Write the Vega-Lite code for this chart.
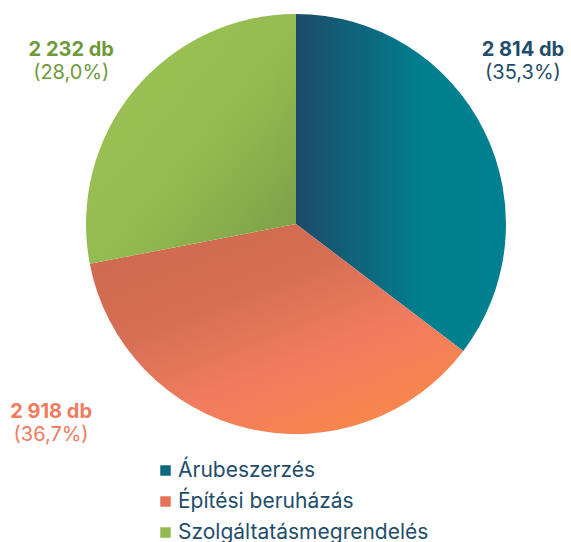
{
  "$schema": "https://vega.github.io/schema/vega-lite/v6.json",
  "autosize": "none",
  "width": 420,
  "height": 420,
  "padding": {"left": 86, "top": 14, "right": 65, "bottom": 108},
  "background": "white",
  "config": {"view": {"stroke": null}, "font": "Inter"},
  "data": {"values": [
    {"cat": "Árubeszerzés", "count": 2814, "label": "2 814 db", "pct": "(35,3%)", "ord": 1},
    {"cat": "Építési beruházás", "count": 2918, "label": "2 918 db", "pct": "(36,7%)", "ord": 2},
    {"cat": "Szolgáltatásmegrendelés", "count": 2232, "label": "2 232 db", "pct": "(28,0%)", "ord": 3}
  ]},
  "encoding": {
    "theta": {"field": "count", "type": "quantitative", "stack": true},
    "order": {"field": "ord", "type": "quantitative", "sort": "ascending"}
  },
  "layer": [
    {
      "mark": {"type": "arc", "outerRadius": 210},
      "encoding": {
        "color": {
          "field": "cat", "type": "nominal",
          "condition": [
            {"test": "datum.cat === 'Árubeszerzés'", "value": {"gradient": "linear", "x1": 0, "y1": 0.5, "x2": 1, "y2": 0.5, "stops": [{"offset": 0, "color": "#1d4a69"}, {"offset": 0.6, "color": "#007f8f"}, {"offset": 1, "color": "#008090"}]}},
            {"test": "datum.cat === 'Építési beruházás'", "value": {"gradient": "linear", "x1": 0.2, "y1": 0, "x2": 0.9, "y2": 1, "stops": [{"offset": 0, "color": "#cf6a50"}, {"offset": 0.3, "color": "#d56e52"}, {"offset": 0.6, "color": "#f07b60"}, {"offset": 1, "color": "#f98b45"}]}},
            {"test": "datum.cat === 'Szolgáltatásmegrendelés'", "value": {"gradient": "linear", "x1": 0, "y1": 0, "x2": 1, "y2": 1, "stops": [{"offset": 0, "color": "#9dc454"}, {"offset": 0.55, "color": "#94bb50"}, {"offset": 1, "color": "#789c46"}]}}
          ],
          "scale": {
            "domain": ["Árubeszerzés", "Építési beruházás", "Szolgáltatásmegrendelés"],
            "range": ["#0d6a80", "#e5735a", "#92bb4f"]
          },
          "legend": {
            "orient": "none", "legendX": 69, "legendY": 446, "title": null,
            "symbolType": "square", "symbolSize": 110, "symbolStrokeWidth": 0,
            "labelFontSize": 21, "labelColor": "#1f4d6a", "labelFont": "Inter",
            "labelLimit": 0, "rowPadding": 9, "labelOffset": 2,
            "encode": {"symbols": {"update": {"fill": [
              {"test": "datum.value === 'Árubeszerzés'", "value": {"gradient": "linear", "x1": 0, "y1": 0.5, "x2": 1, "y2": 0.5, "stops": [{"offset": 0, "color": "#1d4a69"}, {"offset": 1, "color": "#008090"}]}},
              {"test": "datum.value === 'Építési beruházás'", "value": {"gradient": "linear", "x1": 0, "y1": 0, "x2": 1, "y2": 1, "stops": [{"offset": 0, "color": "#d06a50"}, {"offset": 1, "color": "#f7854e"}]}},
              {"value": {"gradient": "linear", "x1": 0, "y1": 0, "x2": 1, "y2": 1, "stops": [{"offset": 0, "color": "#9dc454"}, {"offset": 1, "color": "#8ab34c"}]}}
            ]}}}
          }
        }
      }
    },
    {
      "mark": {"type": "text", "radius": 250, "font": "Inter", "fontWeight": "bold", "fontSize": 20, "align": "center", "baseline": "alphabetic", "color": "#1f4d6a", "dx": 3, "dy": -57},
      "encoding": {"text": {"condition": {"test": "datum.cat === 'Árubeszerzés'", "field": "label"}, "value": ""}}
    },
    {
      "mark": {"type": "text", "radius": 250, "font": "Inter", "fontSize": 20, "align": "center", "baseline": "alphabetic", "color": "#1f4d6a", "dx": 3, "dy": -34},
      "encoding": {"text": {"condition": {"test": "datum.cat === 'Árubeszerzés'", "field": "pct"}, "value": ""}}
    },
    {
      "mark": {"type": "text", "radius": 250, "font": "Inter", "fontWeight": "bold", "fontSize": 20, "align": "center", "baseline": "alphabetic", "color": "#f07b5f", "dx": -188, "dy": -49},
      "encoding": {"text": {"condition": {"test": "datum.cat === 'Építési beruházás'", "field": "label"}, "value": ""}}
    },
    {
      "mark": {"type": "text", "radius": 250, "font": "Inter", "fontSize": 20, "align": "center", "baseline": "alphabetic", "color": "#f07b5f", "dx": -188, "dy": -26},
      "encoding": {"text": {"condition": {"test": "datum.cat === 'Építési beruházás'", "field": "pct"}, "value": ""}}
    },
    {
      "mark": {"type": "text", "radius": 250, "font": "Inter", "fontWeight": "bold", "fontSize": 20, "align": "center", "baseline": "alphabetic", "color": "#6e9a3c", "dx": -32, "dy": -9},
      "encoding": {"text": {"condition": {"test": "datum.cat === 'Szolgáltatásmegrendelés'", "field": "label"}, "value": ""}}
    },
    {
      "mark": {"type": "text", "radius": 250, "font": "Inter", "fontSize": 20, "align": "center", "baseline": "alphabetic", "color": "#6e9a3c", "dx": -32, "dy": 14},
      "encoding": {"text": {"condition": {"test": "datum.cat === 'Szolgáltatásmegrendelés'", "field": "pct"}, "value": ""}}
    }
  ]
}
